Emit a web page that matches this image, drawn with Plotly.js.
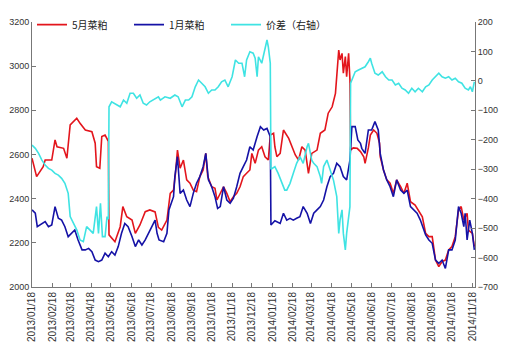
<!DOCTYPE html>
<html>
<head>
<meta charset="utf-8">
<script src="https://cdn.plot.ly/plotly-3.0.1.min.js"></script>
<style>html,body{margin:0;padding:0;background:#fff;}#chart{width:507px;height:360px;}</style>
</head>
<body>
<div id="chart"></div>
<script>
// 5月菜粕 (left axis)
const mayDates = ["2013-01-18","2013-01-25","2013-02-04","2013-02-07","2013-02-17","2013-02-22","2013-02-25","2013-03-07","2013-03-12","2013-03-17","2013-03-27","2013-04-01","2013-04-09","2013-04-19","2013-04-24","2013-04-26","2013-05-01","2013-05-04","2013-05-09","2013-05-12","2013-05-14","2013-05-15","2013-05-17","2013-05-24","2013-06-01","2013-06-05","2013-06-11","2013-06-19","2013-06-24","2013-07-01","2013-07-09","2013-07-16","2013-07-24","2013-07-29","2013-08-03","2013-08-11","2013-08-16","2013-08-21","2013-08-24","2013-08-27","2013-08-31","2013-09-05","2013-09-10","2013-09-15","2013-09-20","2013-09-25","2013-09-30","2013-10-05","2013-10-09","2013-10-12","2013-10-18","2013-10-23","2013-10-26","2013-10-31","2013-11-05","2013-11-10","2013-11-15","2013-11-20","2013-11-25","2013-11-30","2013-12-05","2013-12-10","2013-12-15","2013-12-18","2013-12-23","2013-12-28","2014-01-02","2014-01-07","2014-01-12","2014-01-15","2014-01-20","2014-01-22","2014-01-25","2014-01-30","2014-02-04","2014-02-12","2014-02-17","2014-02-22","2014-02-27","2014-03-04","2014-03-09","2014-03-14","2014-03-19","2014-03-27","2014-04-01","2014-04-08","2014-04-13","2014-04-19","2014-04-24","2014-04-29","2014-05-01","2014-05-04","2014-05-06","2014-05-09","2014-05-11","2014-05-14","2014-05-16","2014-05-17","2014-05-21","2014-05-27","2014-06-01","2014-06-06","2014-06-08","2014-06-11","2014-06-13","2014-06-16","2014-06-21","2014-06-26","2014-06-30","2014-07-01","2014-07-06","2014-07-11","2014-07-16","2014-07-21","2014-07-26","2014-08-01","2014-08-06","2014-08-11","2014-08-16","2014-08-23","2014-08-28","2014-09-03","2014-09-08","2014-09-13","2014-09-18","2014-09-23","2014-09-28","2014-10-03","2014-10-08","2014-10-13","2014-10-18","2014-10-23","2014-10-28","2014-11-01","2014-11-05","2014-11-10","2014-11-12","2014-11-18","2014-11-21"];
const mayValues = [2583,2500,2545,2575,2575,2666,2635,2628,2583,2734,2764,2741,2711,2703,2651,2545,2538,2681,2688,2666,2660,2236,2228,2205,2273,2364,2318,2303,2243,2281,2341,2349,2340,2270,2258,2303,2424,2439,2515,2620,2538,2575,2485,2470,2439,2432,2500,2530,2605,2500,2454,2447,2394,2424,2454,2424,2386,2409,2424,2454,2500,2515,2530,2605,2560,2620,2635,2590,2575,2688,2696,2635,2590,2605,2711,2673,2635,2598,2575,2635,2620,2515,2605,2620,2696,2711,2787,2816,2877,3073,3028,3058,2968,3043,2952,3058,2937,2620,2630,2628,2613,2590,2560,2600,2630,2688,2711,2696,2651,2590,2530,2485,2470,2424,2485,2454,2424,2470,2386,2371,2349,2318,2243,2228,2228,2122,2092,2115,2122,2168,2183,2228,2349,2364,2303,2334,2258,2243,2183];

// 1月菜粕 (left axis)
const janDates = ["2013-01-18","2013-01-23","2013-01-26","2013-02-02","2013-02-07","2013-02-12","2013-02-17","2013-02-22","2013-02-27","2013-03-04","2013-03-09","2013-03-14","2013-03-19","2013-03-24","2013-03-29","2013-04-04","2013-04-09","2013-04-14","2013-04-19","2013-04-24","2013-04-29","2013-05-04","2013-05-09","2013-05-14","2013-05-19","2013-05-24","2013-05-29","2013-06-03","2013-06-08","2013-06-13","2013-06-19","2013-06-24","2013-06-29","2013-07-04","2013-07-09","2013-07-14","2013-07-19","2013-07-24","2013-07-27","2013-07-30","2013-08-06","2013-08-11","2013-08-14","2013-08-21","2013-08-23","2013-08-27","2013-08-31","2013-09-05","2013-09-10","2013-09-15","2013-09-20","2013-09-25","2013-09-30","2013-10-05","2013-10-09","2013-10-13","2013-10-18","2013-10-23","2013-10-27","2013-10-31","2013-11-05","2013-11-10","2013-11-15","2013-11-20","2013-11-25","2013-11-30","2013-12-05","2013-12-10","2013-12-15","2013-12-20","2013-12-26","2013-12-31","2014-01-05","2014-01-10","2014-01-15","2014-01-16","2014-01-22","2014-01-30","2014-02-04","2014-02-09","2014-02-14","2014-02-19","2014-02-24","2014-03-01","2014-03-06","2014-03-12","2014-03-17","2014-03-22","2014-03-27","2014-04-01","2014-04-06","2014-04-11","2014-04-16","2014-04-21","2014-04-26","2014-05-01","2014-05-06","2014-05-11","2014-05-16","2014-05-19","2014-05-24","2014-05-28","2014-06-01","2014-06-03","2014-06-08","2014-06-13","2014-06-18","2014-06-23","2014-06-28","2014-07-01","2014-07-06","2014-07-11","2014-07-16","2014-07-21","2014-07-26","2014-08-01","2014-08-06","2014-08-11","2014-08-16","2014-08-21","2014-08-26","2014-08-31","2014-09-08","2014-09-13","2014-09-18","2014-09-23","2014-09-28","2014-10-03","2014-10-08","2014-10-13","2014-10-18","2014-10-23","2014-10-28","2014-11-01","2014-11-05","2014-11-07","2014-11-10","2014-11-14","2014-11-18","2014-11-21"];
const janValues = [2349,2334,2273,2288,2296,2273,2281,2364,2311,2303,2273,2228,2243,2258,2213,2168,2168,2175,2160,2122,2115,2122,2153,2137,2160,2145,2183,2243,2288,2273,2228,2183,2213,2190,2213,2243,2273,2303,2243,2213,2205,2243,2349,2409,2500,2590,2424,2439,2394,2364,2424,2470,2500,2545,2605,2485,2454,2409,2356,2364,2454,2394,2379,2402,2454,2515,2545,2575,2635,2620,2681,2726,2711,2718,2681,2281,2300,2288,2334,2303,2311,2303,2311,2318,2364,2334,2288,2334,2349,2364,2394,2454,2500,2515,2560,2545,2500,2485,2575,2726,2726,2666,2651,2628,2605,2711,2711,2749,2711,2605,2530,2485,2454,2409,2485,2439,2424,2439,2364,2349,2334,2303,2236,2213,2198,2122,2107,2122,2084,2168,2168,2213,2364,2334,2273,2334,2213,2303,2243,2168];

// 价差（右轴）
const spreadDates = ["2013-01-18","2013-01-23","2013-01-28","2013-02-02","2013-02-07","2013-02-12","2013-02-17","2013-02-22","2013-02-27","2013-03-04","2013-03-09","2013-03-14","2013-03-17","2013-03-22","2013-03-27","2013-04-01","2013-04-06","2013-04-11","2013-04-16","2013-04-21","2013-04-26","2013-04-29","2013-05-02","2013-05-05","2013-05-09","2013-05-12","2013-05-14","2013-05-15","2013-05-19","2013-05-27","2013-06-01","2013-06-06","2013-06-11","2013-06-16","2013-06-21","2013-06-26","2013-07-01","2013-07-06","2013-07-11","2013-07-16","2013-07-21","2013-07-29","2013-08-01","2013-08-08","2013-08-16","2013-08-23","2013-08-28","2013-09-03","2013-09-08","2013-09-13","2013-09-18","2013-09-23","2013-09-28","2013-10-03","2013-10-08","2013-10-13","2013-10-18","2013-10-23","2013-10-28","2013-11-02","2013-11-07","2013-11-12","2013-11-18","2013-11-23","2013-11-28","2013-12-03","2013-12-07","2013-12-10","2013-12-15","2013-12-20","2013-12-23","2013-12-26","2013-12-28","2014-01-02","2014-01-07","2014-01-10","2014-01-12","2014-01-15","2014-01-16","2014-01-22","2014-01-27","2014-02-02","2014-02-06","2014-02-09","2014-02-14","2014-02-19","2014-02-24","2014-03-01","2014-03-06","2014-03-12","2014-03-14","2014-03-19","2014-03-22","2014-03-27","2014-04-01","2014-04-03","2014-04-06","2014-04-11","2014-04-16","2014-04-21","2014-04-26","2014-04-29","2014-05-01","2014-05-04","2014-05-06","2014-05-09","2014-05-11","2014-05-14","2014-05-16","2014-05-17","2014-05-24","2014-05-29","2014-06-03","2014-06-08","2014-06-13","2014-06-16","2014-06-18","2014-06-23","2014-06-28","2014-07-04","2014-07-09","2014-07-14","2014-07-19","2014-07-24","2014-07-29","2014-08-03","2014-08-08","2014-08-13","2014-08-18","2014-08-23","2014-08-28","2014-09-03","2014-09-08","2014-09-13","2014-09-18","2014-09-23","2014-09-28","2014-10-03","2014-10-08","2014-10-13","2014-10-18","2014-10-23","2014-10-28","2014-11-02","2014-11-07","2014-11-12","2014-11-15","2014-11-18","2014-11-21"];
const spreadValues = [-218,-229,-246,-269,-286,-297,-303,-314,-320,-331,-348,-382,-461,-484,-506,-540,-546,-495,-506,-518,-427,-518,-416,-529,-529,-461,-470,-88,-71,-82,-88,-65,-76,-42,-42,-59,-48,-76,-82,-71,-65,-54,-65,-54,-59,-48,-54,-88,-65,-65,-54,-20,3,-8,-20,-42,-31,-31,-20,-3,3,-20,14,71,60,60,14,71,99,94,77,14,82,60,116,139,116,60,-300,-291,-314,-348,-371,-371,-348,-314,-280,-257,-280,-223,-212,-269,-280,-291,-325,-348,-291,-269,-303,-337,-393,-518,-472,-438,-518,-574,-518,-472,-427,-8,31,37,43,48,65,77,60,26,20,31,14,3,3,-14,-8,-25,-31,-42,-25,-37,-25,-37,-20,-14,3,14,26,14,9,14,3,9,-3,-8,-25,-31,-20,-37,-3];

// x-axis ticks
const tickDates = ["2013-01-18","2013-02-18","2013-03-18","2013-04-18","2013-05-18","2013-06-18","2013-07-18","2013-08-18","2013-09-18","2013-10-18","2013-11-18","2013-12-18","2014-01-18","2014-02-18","2014-03-18","2014-04-18","2014-05-18","2014-06-18","2014-07-18","2014-08-18","2014-09-18","2014-10-18","2014-11-18"];
const tickLabels = ["2013/01/18","2013/02/18","2013/03/18","2013/04/18","2013/05/18","2013/06/18","2013/07/18","2013/08/18","2013/09/18","2013/10/18","2013/11/18","2013/12/18","2014/01/18","2014/02/18","2014/03/18","2014/04/18","2014/05/18","2014/06/18","2014/07/18","2014/08/18","2014/09/18","2014/10/18","2014/11/18"];

const seriesNames = ["5月菜粕","1月菜粕","价差（右轴）"];

const traces = [
  {x: mayDates, y: mayValues, name: seriesNames[0], type: "scatter", mode: "lines",
   line: {color: "#e3151c", width: 1.6}, yaxis: "y"},
  {x: janDates, y: janValues, name: seriesNames[1], type: "scatter", mode: "lines",
   line: {color: "#1512a6", width: 1.6}, yaxis: "y"},
  {x: spreadDates, y: spreadValues, name: seriesNames[2], type: "scatter", mode: "lines",
   line: {color: "#3fe3e3", width: 1.6}, yaxis: "y2"}
];

const axisFont = {family: "Liberation Sans, Arial, sans-serif", size: 9, color: "#333"};

const layout = {
  width: 507, height: 360,
  margin: {l: 32, r: 32, t: 22, b: 73, pad: 0, autoexpand: false},
  paper_bgcolor: "#fff", plot_bgcolor: "#fff",
  showlegend: true,
  legend: {orientation: "h", x: 0, xanchor: "left", y: 0.99, yanchor: "middle",
           font: {family: "Noto Sans CJK SC, sans-serif", size: 10, color: "#222"},
           bgcolor: "rgba(0,0,0,0)", entrywidth: 52, entrywidthmode: "pixels",
           traceorder: "normal"},
  xaxis: {type: "date", range: ["2013-01-18", "2014-11-22"],
          tickvals: tickDates, ticktext: tickLabels, tickangle: -90,
          ticks: "inside", ticklen: 4, tickcolor: "#777",
          showline: true, linecolor: "#777", linewidth: 1, showgrid: false, zeroline: false,
          tickfont: {family: "Liberation Sans, Arial, sans-serif", size: 10, color: "#333"}},
  yaxis: {range: [2000, 3200], dtick: 200, tick0: 2000,
          ticks: "inside", ticklen: 4, tickcolor: "#777",
          showline: true, linecolor: "#777", linewidth: 1, showgrid: false, zeroline: false,
          tickfont: axisFont},
  yaxis2: {range: [-700, 200], dtick: 100, tick0: -700, overlaying: "y", side: "right",
           ticks: "inside", ticklen: 4, tickcolor: "#777",
           showline: true, linecolor: "#777", linewidth: 1, showgrid: false, zeroline: false,
           tickfont: axisFont}
};

Plotly.newPlot("chart", traces, layout, {displayModeBar: false, staticPlot: true});
</script>
</body>
</html>
